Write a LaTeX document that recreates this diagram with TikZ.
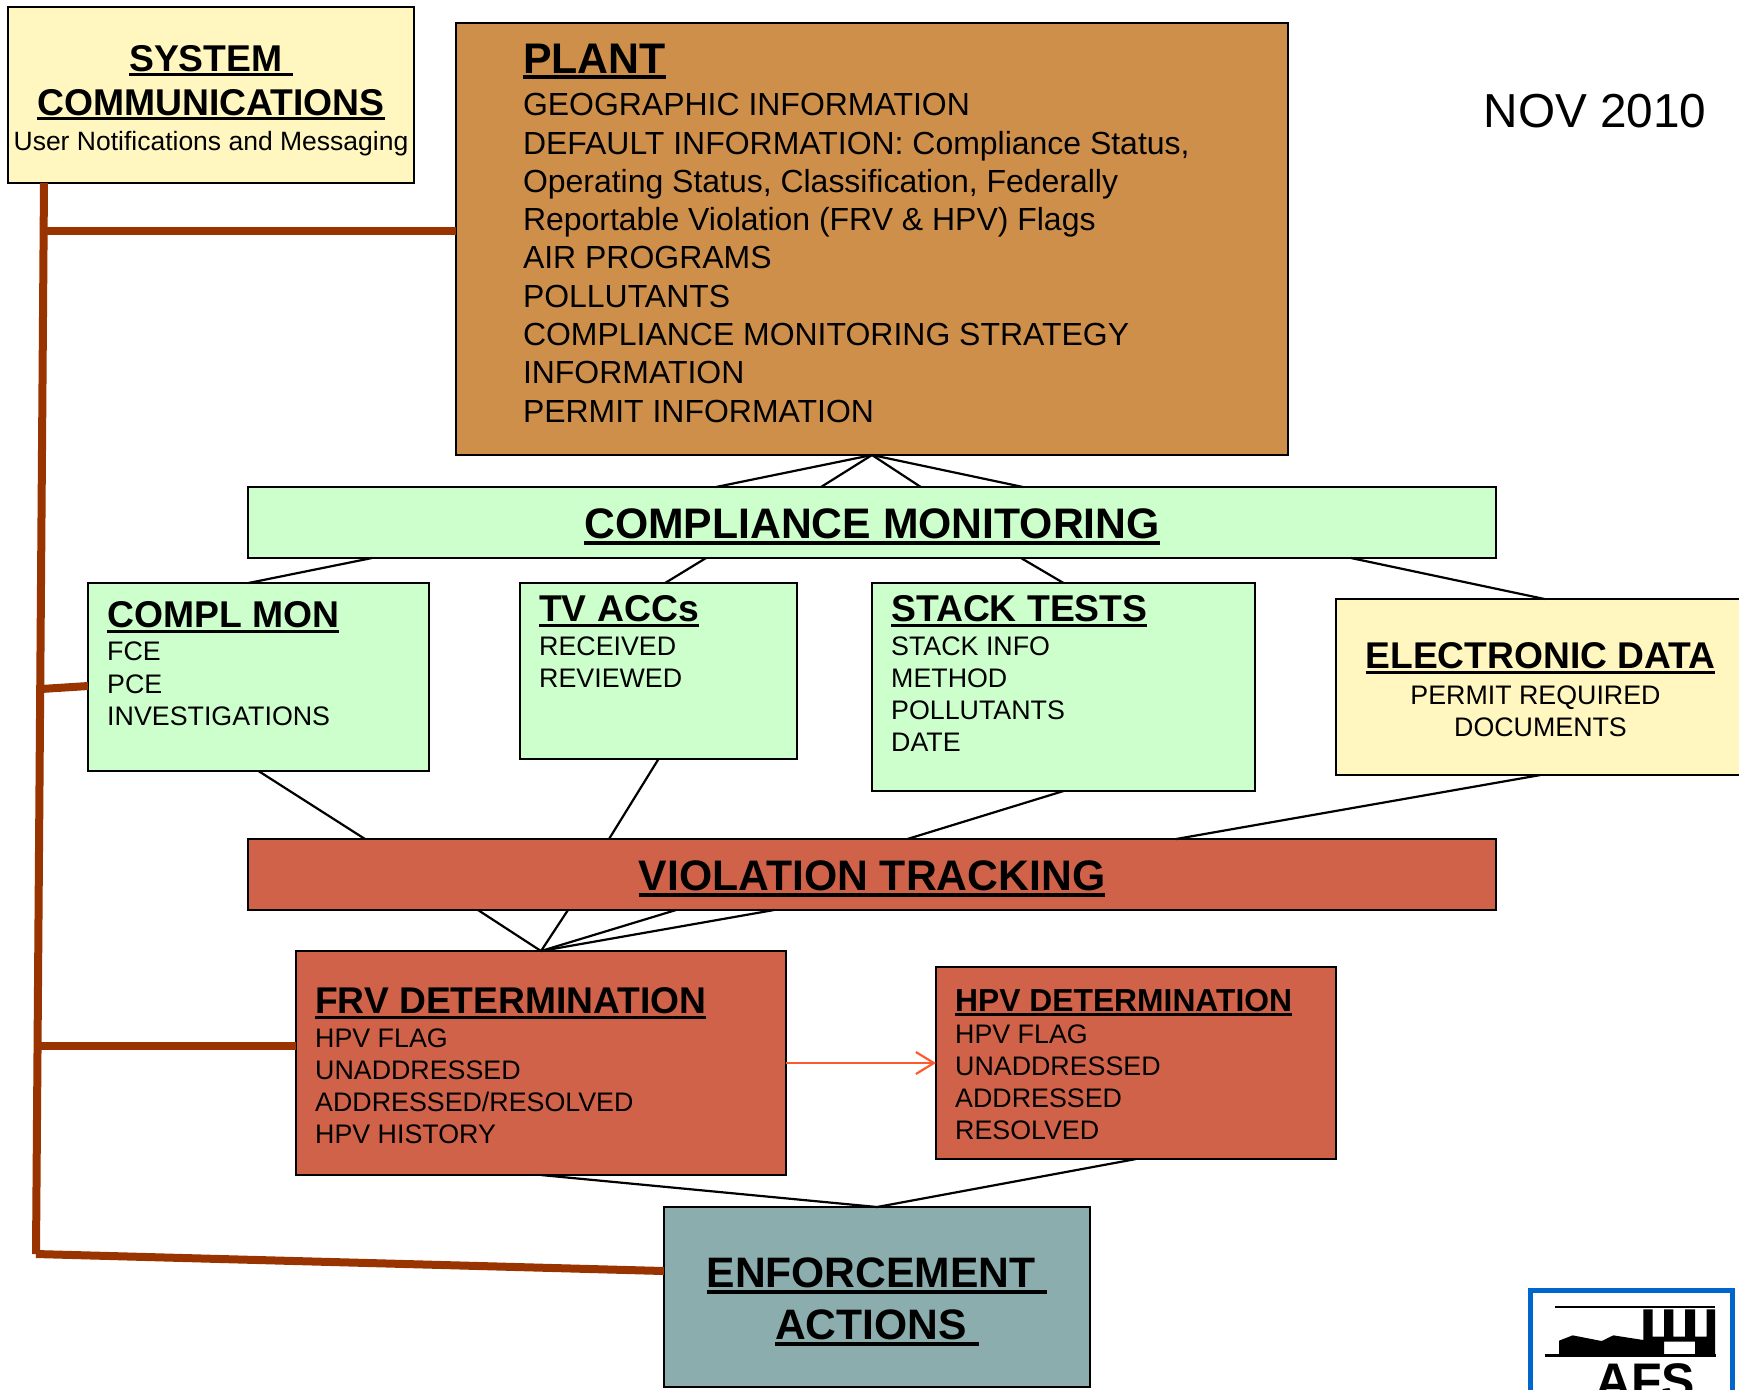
\documentclass[tikz,border=0pt]{standalone}
\usepackage{fontspec}
\setmainfont{Liberation Sans}
\usetikzlibrary{arrows.meta,calc}
\definecolor{cYellow}{HTML}{FFF7BF}
\definecolor{cPlant}{HTML}{CE8F4A}
\definecolor{cGreen}{HTML}{CCFFCC}
\definecolor{cRed}{HTML}{CF6248}
\definecolor{cTeal}{HTML}{8CADAD}
\definecolor{cBrown}{HTML}{993300}
\definecolor{cArrow}{HTML}{FF5A2E}
\definecolor{cBlue}{HTML}{0066CC}
\newcommand\ulx[1]{\setbox0=\hbox{#1}\leavevmode\rlap{\raisebox{-0.145em}{\rule{\wd0}{0.09em}}}\box0}
\newcommand\hd[3]{{\fontsize{#1pt}{#2pt}\selectfont\bfseries\ulx{#3}\par}}
\newcommand\bd[3]{{\fontsize{#1pt}{#2pt}\selectfont #3\par}}
% name x1 y1 x2 y2 style leftpad toppad text
\newcommand\bx[9]{\node[#6,anchor=north west] (#1) at (#2,#3) {\parbox[c][\dimexpr(#5pt-#3pt)/2\relax][t]{\dimexpr(#4pt-#2pt)/2\relax}{\raggedright\leftskip=#7pt\relax\vspace*{#8pt}#9}};}
\tikzset{
 boxed/.style={draw=black,line width=1.35pt,inner sep=0pt,outer sep=0pt},
 yellowbox/.style={boxed,fill=cYellow},
 plantbox/.style={boxed,fill=cPlant},
 greenbox/.style={boxed,fill=cGreen},
 redbox/.style={boxed,fill=cRed},
 tealbox/.style={boxed,fill=cTeal},
 link/.style={draw=black,line width=1.1pt},
 bus/.style={draw=cBrown,line width=4pt},
 flow/.style={draw=cArrow,line width=1.1pt,-{Straight Barb[length=9pt,width=11pt,line width=1.1pt]}},
}
\begin{document}
\begin{tikzpicture}[x=0.5pt,y=-0.5pt]
\useasboundingbox (0,0) rectangle (1739,1389);
\clip (0,0) rectangle (1739,1389);
\bx{sys}{8}{7}{414}{183}{yellowbox}{0}{19}{\centering\hd{18.65}{22}{SYSTEM\ }\hd{18.65}{22}{COMMUNICATIONS}\bd{13.25}{17.5}{User Notifications and Messaging}}
\bx{plant}{456}{23}{1288}{455}{plantbox}{33.5}{10.3}{\hd{21.4}{25}{PLANT}\vspace{2.2pt}\bd{15.98}{19.15}{GEOGRAPHIC INFORMATION\\DEFAULT INFORMATION: Compliance Status,\\Operating Status, Classification, Federally\\Reportable Violation (FRV \& HPV) Flags\\AIR PROGRAMS\\POLLUTANTS\\COMPLIANCE MONITORING STRATEGY\\INFORMATION\\PERMIT INFORMATION}}
\node[anchor=base,font=\fontsize{23.85pt}{26pt}\selectfont] (date) at (1595,127) {NOV 2010};
\bx{cm}{248}{487}{1496}{558}{greenbox}{0}{10.9}{\centering\hd{21.35}{24}{COMPLIANCE MONITORING}}
\bx{compl}{88}{583}{429}{771}{greenbox}{9.6}{9.3}{\hd{18.65}{21}{COMPL MON}\vspace{0.6pt}\bd{13.4}{16.05}{FCE\\PCE\\INVESTIGATIONS}}
\bx{tv}{520}{583}{797}{759}{greenbox}{9.6}{6.4}{\hd{18.65}{19}{TV ACCs}\vspace{0.7pt}\bd{13.4}{16}{RECEIVED\\REVIEWED}}
\bx{stack}{872}{583}{1255}{791}{greenbox}{9.6}{6.4}{\hd{18.65}{19}{STACK TESTS}\vspace{1pt}\bd{13.4}{16}{STACK INFO\\METHOD\\POLLUTANTS\\DATE}}
\bx{elec}{1336}{599}{1745}{775}{yellowbox}{0}{22}{\centering\hd{18.6}{20}{ELECTRONIC DATA}\vspace{1.6pt}\bd{13.4}{16}{PERMIT REQUIRED\rule{5pt}{0pt}\\DOCUMENTS}}
\bx{vt}{248}{839}{1496}{910}{redbox}{0}{10.9}{\centering\hd{21.35}{24}{VIOLATION TRACKING}}
\bx{frv}{296}{951}{786}{1175}{redbox}{9.6}{18.3}{\hd{18.6}{21}{FRV DETERMINATION}\vspace{1pt}\bd{13.4}{16}{HPV FLAG\\UNADDRESSED\\ADDRESSED/RESOLVED\\HPV HISTORY}}
\bx{hpv}{936}{967}{1336}{1159}{redbox}{9.6}{11}{\hd{15.9}{18.4}{HPV DETERMINATION}\vspace{0.3pt}\bd{13.4}{16}{HPV FLAG\\UNADDRESSED\\ADDRESSED\\RESOLVED}}
\bx{enf}{664}{1207}{1090}{1387}{tealbox}{0}{25.4}{\centering\hd{21.3}{26}{ENFORCEMENT\ }\hd{21.3}{26}{ACTIONS\ }}
% plant to compliance monitoring
\draw[link] (plant.south) -- ([xshift=-78pt]cm.north);
\draw[link] (plant.south) -- ([xshift=-25.5pt]cm.north);
\draw[link] (plant.south) -- ([xshift=24.4pt]cm.north);
\draw[link] (plant.south) -- ([xshift=75.5pt]cm.north);
% compliance monitoring to children
\draw[link] ([xshift=-250pt]cm.south) -- ([xshift=-5pt]compl.north);
\draw[link] ([xshift=-83pt]cm.south) -- ([xshift=3.3pt]tv.north);
\draw[link] ([xshift=74.5pt]cm.south) -- (stack.north);
\draw[link] ([xshift=239.5pt]cm.south) -- ([xshift=2pt]elec.north);
% children to violation tracking
\draw[link] (compl.south) -- ([xshift=-253.5pt]vt.north);
\draw[link] (tv.south) -- ([xshift=-131.5pt]vt.north);
\draw[link] (stack.south) -- ([xshift=17.7pt]vt.north);
\draw[link] (elec.south) -- ([xshift=152pt]vt.north);
% violation tracking to FRV
\draw[link] ([xshift=-197pt]vt.south) -- (frv.north);
\draw[link] ([xshift=-152pt]vt.south) -- (frv.north);
\draw[link] ([xshift=-98pt]vt.south) -- (frv.north);
\draw[link] ([xshift=-49pt]vt.south) -- (frv.north);
\draw[flow] (frv.east) -- (frv.east -| hpv.west);
\draw[link] (frv.south) -- (enf.north);
\draw[link] (hpv.south) -- (enf.north);
% brown bus
\draw[bus] ([xshift=-83.5pt]sys.south) -- (36,1254) coordinate (busEnd);
\coordinate (busA) at (40,231);
\coordinate (busB) at (41,689);
\coordinate (busC) at (38,1046);
\draw[bus] (busA) -- (busA -| plant.west);
\draw[bus] (busB) -- ([yshift=-4.5pt]compl.west);
\draw[bus] (busC) -- (busC -| frv.west);
\draw[bus] (busEnd) -- (664,1271);
% AFS logo
\begin{scope}[shift={(1480,1260)},x=0.5pt/3,y=-0.5pt/3]
\draw[draw=cBlue,fill=white,line width=2.4pt] (151,91) rectangle (757,500);
\fill[black] (237,282) -- (237,242) -- (278,226) -- (365,243) -- (400,226) -- (490,240) -- (490,148) -- (518,148) -- (518,230) -- (552,230) -- (552,148) -- (580,148) -- (580,230) -- (615,230) -- (615,148) -- (645,148) -- (645,230) -- (680,230) -- (680,148) -- (705,148) -- (705,282) -- (645,282) -- (645,245) -- (552,245) -- (552,282) -- cycle;
\draw[black,line width=1.3pt] (225,141) -- (705,141);
\draw[black,line width=1.3pt] (195,287) -- (707,287);
\node[anchor=base,font=\fontsize{25pt}{27pt}\selectfont\bfseries,inner sep=0pt] (afs) at (495,414) {AFS};
\end{scope}
\end{tikzpicture}
\end{document}
